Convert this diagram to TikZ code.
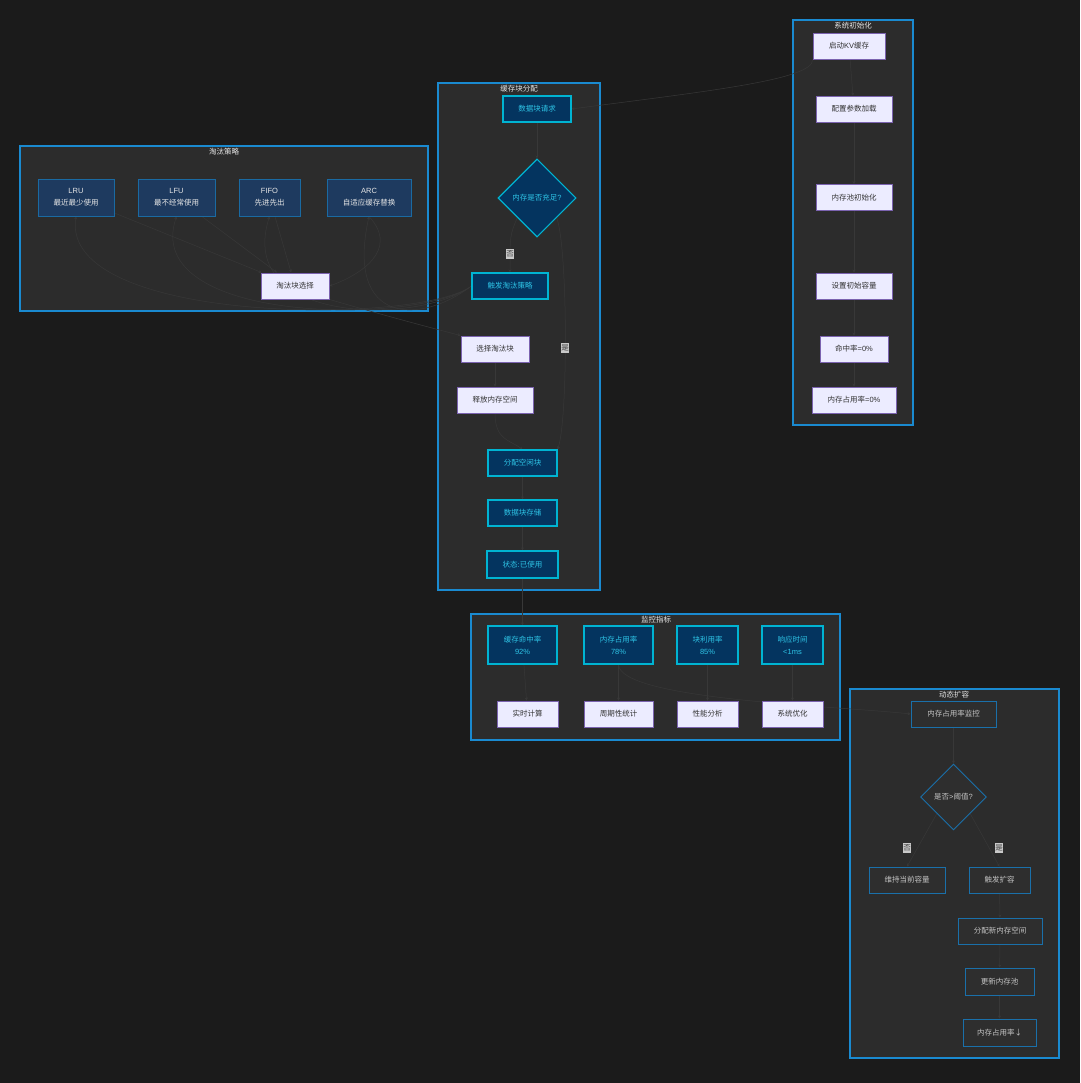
\documentclass[tikz,border=0pt]{standalone}
\usepackage{fontspec}
\setmainfont{Noto Sans CJK SC}
\newfontfamily\lat{Liberation Sans}
\usetikzlibrary{arrows.meta,shapes.geometric}
\pgfdeclarelayer{clusterlayer}
\pgfdeclarelayer{edgelayer}
\pgfsetlayers{clusterlayer,edgelayer,main}
\definecolor{bgc}{HTML}{1B1B1B}
\definecolor{clfill}{HTML}{2C2C2C}
\definecolor{clborder}{HTML}{1A8AD0}
\definecolor{lightfill}{HTML}{ECECFF}
\definecolor{lightborder}{HTML}{7B63B0}
\definecolor{lighttext}{HTML}{333333}
\definecolor{darkfill}{HTML}{04345F}
\definecolor{cyanborder}{HTML}{00B4D2}
\definecolor{cyantext}{HTML}{2EC4E6}
\definecolor{stratfill}{HTML}{1E3A5F}
\definecolor{stratborder}{HTML}{1A6AA2}
\definecolor{expfill}{HTML}{2E2E2E}
\definecolor{expborder}{HTML}{1A70AA}
\definecolor{edgec}{HTML}{383838}
\definecolor{titlec}{HTML}{E6E6E6}
\tikzset{
  nfont/.style={font=\fontsize{7.5}{12}\selectfont},
  cluster/.style={draw=clborder, fill=clfill, line width=1.1pt},
  cltitle/.style={nfont, text=titlec, inner sep=0pt},
  lightbox/.style={nfont, rectangle, draw=lightborder, fill=lightfill, text=lighttext, line width=0.9pt, minimum height=26pt, inner sep=1pt},
  cyanbox/.style={nfont, rectangle, draw=cyanborder, fill=darkfill, text=cyantext, line width=1.1pt, minimum height=26pt, inner sep=1pt, align=center},
  stratbox/.style={nfont, rectangle, draw=stratborder, fill=stratfill, text=titlec, line width=0.9pt, minimum height=37pt, inner sep=1pt, align=center},
  expbox/.style={nfont, rectangle, draw=expborder, fill=expfill, text=titlec!85!black, line width=0.9pt, minimum height=26pt, inner sep=1pt},
  cdiamond/.style={nfont, diamond, draw=cyanborder, fill=darkfill, text=cyantext, line width=1.1pt, minimum width=78pt, minimum height=78pt, inner sep=0pt},
  ediamond/.style={nfont, diamond, draw=expborder, fill=expfill, text=titlec!85!black, line width=0.9pt, minimum width=66pt, minimum height=66pt, inner sep=0pt},
  edge/.style={draw=edgec, line width=0.5pt, -{Stealth[length=3pt,width=3pt]}},
  lbl/.style={font=\fontsize{7.5}{8}\selectfont, fill=lightgray!85!white, text=black!75, inner xsep=0.5pt, inner ysep=1.5pt}
}
\begin{document}
\begin{tikzpicture}[x=1pt,y=-1pt]
\begin{pgfonlayer}{clusterlayer}
\fill[bgc] (0,0) rectangle (1080,1083);
\draw[cluster] (793,20) rectangle (913,425);
\draw[cluster] (438,83) rectangle (600,590);
\draw[cluster] (20,146) rectangle (428,311);
\draw[cluster] (471,614) rectangle (840,740);
\draw[cluster] (850,689) rectangle (1059,1058);
\end{pgfonlayer}
\useasboundingbox (0,0) rectangle (1080,1083);

% cluster titles
\node[cltitle] (tinit) at (853,26) {系统初始化};
\node[cltitle] (talloc) at (519,88.5) {缓存块分配};
\node[cltitle] (tstrat) at (224,152) {淘汰策略};
\node[cltitle] (tmon) at (656,619.5) {监控指标};
\node[cltitle] (texp) at (954,694.5) {动态扩容};

% init nodes
\node[lightbox, minimum width=72pt] (kv) at (849,46) {启动{\lat KV}缓存};
\node[lightbox, minimum width=76pt] (cfg) at (854,109) {配置参数加载};
\node[lightbox, minimum width=76pt] (pool) at (854,197.5) {内存池初始化};
\node[lightbox, minimum width=76pt] (cap) at (854,286) {设置初始容量};
\node[lightbox, minimum width=68pt] (hit0) at (854,349) {命中率{\lat =0\%}};
\node[lightbox, minimum width=84pt] (use0) at (854,400) {内存占用率{\lat =0\%}};

% alloc nodes
\node[cyanbox, minimum width=68pt] (req) at (537,109) {数据块请求};
\node[cdiamond] (mem) at (537,198) {内存是否充足{\lat ?}};
\node[cyanbox, minimum width=76pt] (evict) at (510,286) {触发淘汰策略};
\node[lightbox, minimum width=68pt] (choose) at (495,349) {选择淘汰块};
\node[lightbox, minimum width=76pt] (release) at (495,400) {释放内存空间};
\node[cyanbox, minimum width=69pt] (alloc) at (522.5,463) {分配空闲块};
\node[cyanbox, minimum width=69pt] (store) at (522.5,513) {数据块存储};
\node[cyanbox, minimum width=71pt, minimum height=27pt] (state) at (522.5,564.5) {状态{\lat :}已使用};

% strategy nodes
\node[stratbox, minimum width=76pt] (lru) at (76,197.5) {{\lat LRU}\\最近最少使用};
\node[stratbox, minimum width=77pt] (lfu) at (176.5,197.5) {{\lat LFU}\\最不经常使用};
\node[stratbox, minimum width=61pt] (fifo) at (269.5,197.5) {{\lat FIFO}\\先进先出};
\node[stratbox, minimum width=84pt] (arc) at (369,197.5) {{\lat ARC}\\自适应缓存替换};
\node[lightbox, minimum width=68pt] (sel) at (295,286) {淘汰块选择};

% monitoring nodes
\node[cyanbox, minimum width=69pt, minimum height=38pt] (m1) at (522.5,645) {缓存命中率\\{\lat 92\%}};
\node[cyanbox, minimum width=69pt, minimum height=38pt] (m2) at (618.5,645) {内存占用率\\{\lat 78\%}};
\node[cyanbox, minimum width=61pt, minimum height=38pt] (m3) at (707.5,645) {块利用率\\{\lat 85\%}};
\node[cyanbox, minimum width=61pt, minimum height=38pt] (m4) at (792.5,645) {响应时间\\{\lat <1ms}};
\node[lightbox, minimum width=61pt] (c1) at (527.5,714) {实时计算};
\node[lightbox, minimum width=69pt] (c2) at (618.5,714) {周期性统计};
\node[lightbox, minimum width=61pt] (c3) at (707.5,714) {性能分析};
\node[lightbox, minimum width=61pt] (c4) at (792.5,714) {系统优化};

% expansion nodes
\node[expbox, minimum width=85pt] (mon) at (953.5,714) {内存占用率监控};
\node[ediamond] (thr) at (953.5,797) {是否{\lat >}阈值{\lat ?}};
\node[expbox, minimum width=76pt] (keep) at (907,880) {维持当前容量};
\node[expbox, minimum width=61pt] (grow) at (999.5,880) {触发扩容};
\node[expbox, minimum width=84pt] (newmem) at (1000,931) {分配新内存空间};
\node[expbox, minimum width=69pt, minimum height=27pt] (upd) at (999.5,981.5) {更新内存池};
\node[expbox, minimum width=73pt, minimum height=27pt] (down) at (999.5,1032.5) {内存占用率↓};

\begin{pgfonlayer}{edgelayer}
% edges: init
\draw[edge] (kv) -- (cfg);
\draw[edge] (cfg) -- (pool);
\draw[edge] (pool) -- (cap);
\draw[edge] (cap) -- (hit0);
\draw[edge] (hit0) -- (use0);
\draw[edge] (kv.south west) .. controls (815,80) and (700,92) .. (req.east);

% edges: alloc
\draw[edge] (req) -- (mem);
\draw[edge] (mem.south west) .. controls (510,235) .. (evict.north);
\draw[edge] (mem.south east) .. controls (568,250) and (568,420) .. (alloc.north east);
\draw[edge] (choose) -- (release);
\draw[edge] (release.south) .. controls (495,440) and (510,440) .. (alloc.north);
\draw[edge] (alloc) -- (store);
\draw[edge] (store) -- (state);
\draw[edge] (state) -- (m1);

% edges: strategies
\foreach \s/\x in {lru/60, lfu/140, fifo/235, arc/345} {
  \draw[edge] (evict.west) .. controls (420,325) and (\x,325) .. (\s.south);
}
\draw[edge] (lru) -- (sel);
\draw[edge] (lfu) -- (sel);
\draw[edge] (fifo) -- (sel);
\draw[edge] (arc.south) .. controls (400,250) and (360,275) .. (sel.east);
\draw[edge] (sel.south east) .. controls (400,320) and (440,330) .. (choose.north west);

% edges: monitoring
\draw[edge] (m1) -- (c1);
\draw[edge] (m2) -- (c2);
\draw[edge] (m3) -- (c3);
\draw[edge] (m4) -- (c4);
\draw[edge] (m2.south) .. controls (620,700) and (840,706) .. (mon.west);

% edges: expansion
\draw[edge] (mon) -- (thr);
\draw[edge] (thr.south west) -- (keep.north);
\draw[edge] (thr.south east) -- (grow.north);
\draw[edge] (grow) -- (newmem);
\draw[edge] (newmem) -- (upd);
\draw[edge] (upd) -- (down);
\end{pgfonlayer}

% edge labels
\node[lbl] (no1) at (510,254) {否};
\node[lbl] (yes1) at (565,348) {是};
\node[lbl] (no2) at (907,848) {否};
\node[lbl] (yes2) at (999,848) {是};
\end{tikzpicture}
\end{document}
